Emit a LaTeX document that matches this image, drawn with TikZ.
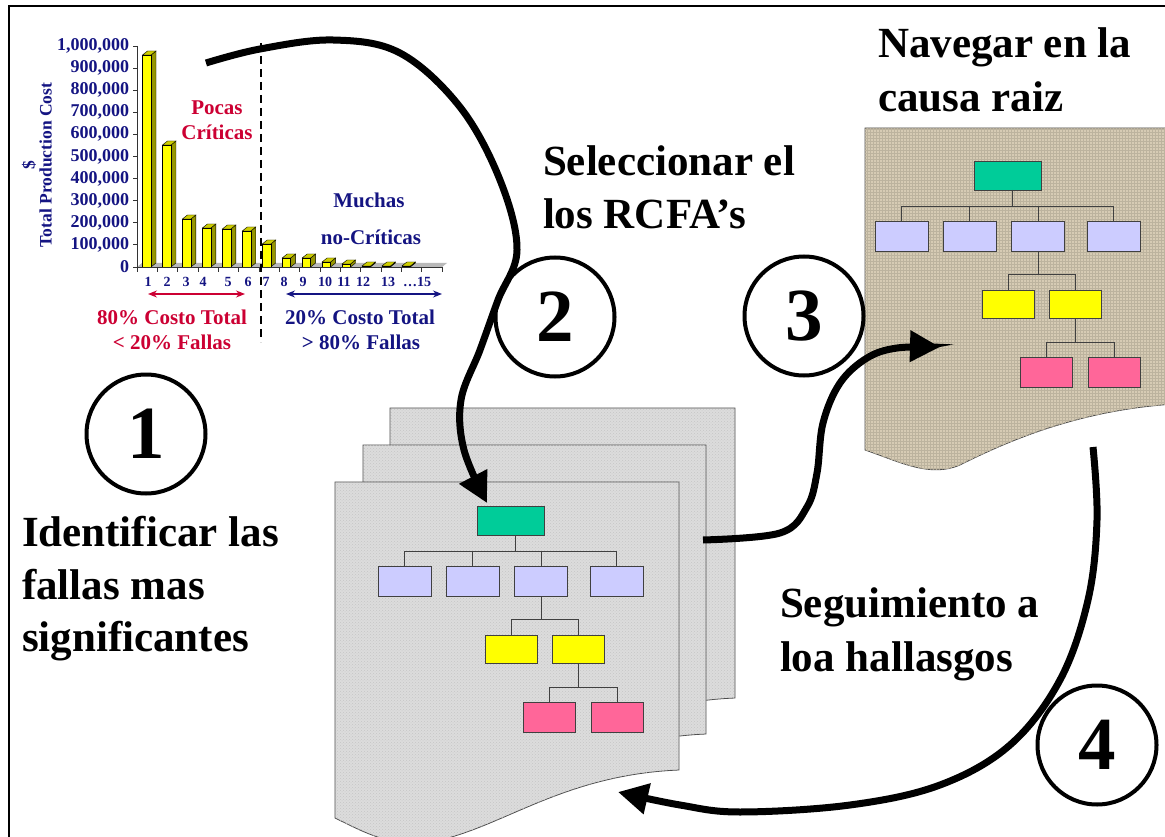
\documentclass[tikz,border=0pt]{standalone}
\usepackage{fontspec}
\setmainfont{Liberation Serif}
\usetikzlibrary{arrows.meta,patterns}
\definecolor{navy}{RGB}{20,20,130}
\definecolor{crim}{RGB}{204,0,51}
\definecolor{sheetgray}{RGB}{220,220,220}
\definecolor{beige}{RGB}{214,203,180}
\definecolor{boxgreen}{RGB}{0,204,153}
\definecolor{boxlav}{RGB}{204,204,255}
\definecolor{boxyel}{RGB}{255,255,0}
\definecolor{boxpink}{RGB}{255,102,153}
\definecolor{barfront}{RGB}{255,255,0}
\definecolor{barside}{RGB}{150,150,0}
\definecolor{bartop}{RGB}{205,205,0}
\newcommand{\orgchart}[1]{%
  \node[obox, fill=boxgreen, minimum width=67pt, minimum height=29pt] (#1g) at (510.5,520.5) {};
  \node[obox, fill=boxlav] (#1a) at (404.5,581) {};
  \node[obox, fill=boxlav] (#1b) at (472.5,581) {};
  \node[obox, fill=boxlav] (#1c) at (541,581) {};
  \node[obox, fill=boxlav] (#1d) at (616.5,581) {};
  \node[obox, fill=boxyel, minimum width=52pt, minimum height=28pt] (#1y) at (511,649) {};
  \node[obox, fill=boxyel, minimum width=52pt, minimum height=28pt] (#1z) at (578.5,649) {};
  \node[obox, fill=boxpink, minimum width=52pt] (#1p) at (549,717) {};
  \node[obox, fill=boxpink, minimum width=52pt] (#1q) at (617,717) {};
  \coordinate (#1b1) at (515,551);
  \coordinate (#1b2) at (540,619);
  \coordinate (#1b3) at (583,687);
  \draw[conn] (#1g.south -| #1b1) -- (#1b1);
  \draw[conn] (#1a.north) -- (#1a.north |- #1b1) -- (#1d.north |- #1b1) -- (#1d.north);
  \draw[conn] (#1b.north) -- (#1b.north |- #1b1);
  \draw[conn] (#1c.north) -- (#1c.north |- #1b1);
  \draw[conn] (#1c.south) -- (#1c.south |- #1b2);
  \draw[conn] (#1y.north) -- (#1y.north |- #1b2) -- (#1z.north |- #1b2) -- (#1z.north);
  \draw[conn] (#1z.south) -- (#1z.south |- #1b3);
  \draw[conn] (#1p.north) -- (#1p.north |- #1b3) -- (#1q.north |- #1b3) -- (#1q.north);
}
\begin{document}
\begin{tikzpicture}[x=1pt,y=-1pt,
  every node/.style={inner sep=0pt, outer sep=0pt},
  bigtxt/.style={font=\fontsize{43}{54}\selectfont\bfseries, anchor=base west},
  numcirc/.style={circle, draw, line width=4pt, minimum size=119pt, font=\fontsize{75}{75}\selectfont\bfseries},
  conn/.style={draw=black!75, line width=0.8pt},
  obox/.style={draw=black!75, line width=0.8pt, rectangle, minimum width=53pt, minimum height=30pt},
  bigarrow/.style={line width=7pt, -{Triangle[length=30pt,width=30pt]}},
  sheet/.style={draw=black!70, line width=0.8pt, fill=sheetgray, postaction={pattern=crosshatch dots, pattern color=gray!45}},
  axlab/.style={font=\fontsize{18}{18}\selectfont\bfseries, text=navy},
  catlab/.style={font=\fontsize{14}{14}\selectfont\bfseries, text=navy, anchor=base},
  midlab/.style={font=\fontsize{21}{21}\selectfont\bfseries, anchor=base},
  twoarrow/.style={line width=1.2pt, {Stealth[length=9pt,width=7pt]}-{Stealth[length=9pt,width=7pt]}}
]
\useasboundingbox (0,0) rectangle (1165,837);
\fill[white] (0,0) rectangle (1165,837);
% frame
\draw[line width=2.5pt] (9,845) -- (9,6) -- (1175,6);

% ---------- chart ----------
\fill[gray!55] (137,267) -- (442,267) -- (447,263) -- (142,263) -- cycle;
\foreach \k/\h in {1/55,2/145,3/219,4/228,5/229,6/231,7/244,8/258,9/258,10/262,11/264,12/266,13/266,14/266}{
  \pgfmathsetmacro\xa{142.5+(\k-1)*19.95}
  \pgfmathsetmacro\xb{\xa+8.5}
  \filldraw[fill=barside, line width=0.4pt] (\xb,267) -- (\xb+5,263) -- (\xb+5,\h-4) -- (\xb,\h) -- cycle;
  \filldraw[fill=bartop, line width=0.4pt] (\xa,\h) -- (\xa+5,\h-4) -- (\xb+5,\h-4) -- (\xb,\h) -- cycle;
  \filldraw[fill=barfront, line width=0.4pt] (\xa,\h) rectangle (\xb,267);
}
\draw[line width=0.8pt, black!80] (137,46) -- (137,267) -- (442,267);
\foreach \i in {0,...,10}{\draw[line width=0.8pt, black!80] (133,{267-\i*22.1}) -- (137,{267-\i*22.1});}
\foreach \i in {0,...,15}{\draw[line width=0.8pt, black!80] ({137+\i*20.33},267) -- ({137+\i*20.33},272);}
\foreach \i/\l in {0/0,1/{100,000},2/{200,000},3/{300,000},4/{400,000},5/{500,000},6/{600,000},7/{700,000},8/{800,000},9/{900,000},10/{1,000,000}}{
  \node[axlab, anchor=east] (yl\i) at (129,{267-\i*22.1}) {\l};
}
\node[rotate=90, align=center, text=navy, font=\fontsize{17.5}{17}\selectfont\bfseries] (ylab) at (37,165) {\$\\Total Production Cost};
\foreach \x/\l [count=\n] in {148/1,167/2,186/3,203/4,228/5,248/6,266/7,284/8,303/9,325/10,344/11,363/12,388/13,417/{…15}}{
  \node[catlab] (cl\n) at (\x,287) {\l};
}
\node[midlab, text=crim] (pocas) at (217,115) {Pocas};
\node[midlab, text=crim] (crit) at (217,140) {Críticas};
\node[midlab, text=navy] (muchas) at (369,208) {Muchas};
\node[midlab, text=navy] (nocrit) at (371,245) {no-Críticas};
\coordinate (ra1) at (148,294); \coordinate (ra2) at (245,294);
\coordinate (ba1) at (286,294); \coordinate (ba2) at (442,294);
\draw[twoarrow, crim] (ra1) -- (ra2);
\draw[twoarrow, navy] (ba1) -- (ba2);
\node[font=\fontsize{21}{21}\selectfont\bfseries, text=crim, anchor=base] (l80) at (172,324) {80\% Costo Total};
\node[font=\fontsize{21}{21}\selectfont\bfseries, text=crim, anchor=base] (l20) at (172,349) {< 20\% Fallas};
\node[font=\fontsize{21}{21}\selectfont\bfseries, text=navy, anchor=base] (r20) at (360,324) {20\% Costo Total};
\node[font=\fontsize{21}{21}\selectfont\bfseries, text=navy, anchor=base] (r80) at (361,349) {> 80\% Fallas};
\coordinate (dl1) at (261,43); \coordinate (dl2) at (261,342);
\draw[line width=1.8pt, dash pattern=on 8pt off 5pt] (dl1) -- (dl2);

% ---------- sheets ----------
\path[sheet] (390,408) -- (735,408) -- (735,698) .. controls (616,703) and (556,758) .. (486,770) .. controls (446,776) and (416,758) .. (390,746) -- cycle;
\path[sheet] (363,445) -- (706,445) -- (706,734) .. controls (588,739) and (528,794) .. (458,806) .. controls (418,812) and (388,794) .. (363,782) -- cycle;
\path[sheet] (335,482) -- (679,482) -- (679,770) .. controls (560,775) and (500,830) .. (430,842) .. controls (390,848) and (360,830) .. (335,818) -- cycle;
\orgchart{f}

\path[draw=black!70, line width=0.8pt, fill=beige, postaction={pattern=grid, pattern color=beige!88!black}]
  (865,128) -- (1175,128) -- (1175,404) .. controls (1080,410) and (1010,440) .. (960,465) .. controls (930,478) and (900,462) .. (865,450) -- cycle;
\begin{scope}[shift={(497,-345)}]
\orgchart{r}
\end{scope}

% ---------- arrows ----------
\coordinate (a1s) at (206,63);
\coordinate (a1e) at (487,503);
\draw[bigarrow] plot[smooth, tension=0.6] coordinates {(a1s) (260,49) (333,40) (400,53) (460,107) (500,180) (517,250) (498,300) (480,350) (461,400) (464,450) (a1e)};
\coordinate (a2s) at (703,540);
\coordinate (a2e) at (940,347);
\draw[bigarrow] plot[smooth, tension=0.6] coordinates {(a2s) (780,533) (807,507) (817,473) (823,423) (840,383) (867,358) (897,348) (a2e)};
\coordinate (a3s) at (1093,447);
\coordinate (a3e) at (618,792);
\draw[bigarrow] plot[smooth, tension=0.6] coordinates {(a3s) (1097,520) (1088,600) (1060,680) (1010,745) (940,785) (850,805) (740,812) (680,805) (a3e)};

% ---------- circles ----------
\node[numcirc] (c1) at (146,434) {1};
\node[numcirc] (c2) at (555,317) {2};
\node[numcirc] (c3) at (804,316) {3};
\node[numcirc] (c4) at (1097,745) {4};

% ---------- texts ----------
\node[bigtxt] (t1a) at (22,546) {Identificar las};
\node[bigtxt] (t1b) at (22,599) {fallas mas};
\node[bigtxt] (t1c) at (22,651) {significantes};
\node[bigtxt] (t2a) at (543,176) {Seleccionar el};
\node[bigtxt] (t2b) at (543,229) {los RCFA’s};
\node[bigtxt] (t3a) at (878,58) {Navegar en la};
\node[bigtxt] (t3b) at (878,112) {causa raiz};
\node[bigtxt] (t4a) at (780,617) {Seguimiento a};
\node[bigtxt] (t4b) at (780,671) {loa hallasgos};
\end{tikzpicture}
\end{document}
